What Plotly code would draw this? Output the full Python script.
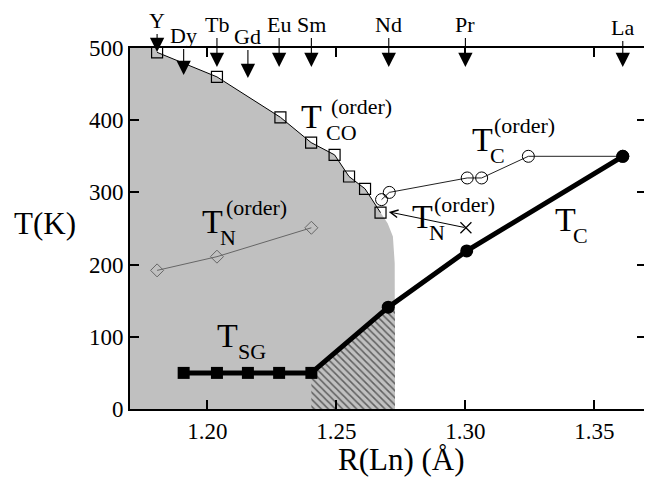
import plotly.graph_objects as go

# ---------------- data ----------------
elements = ["Y", "Dy", "Tb", "Gd", "Eu", "Sm", "Nd", "Pr", "La"]
element_R = [1.1805, 1.1908, 1.2037, 1.2157, 1.2278, 1.2403, 1.2703, 1.3000, 1.3610]

tco_R = [1.1805, 1.2037, 1.2283, 1.2402, 1.2493, 1.2549, 1.2611, 1.2671]
tco_T = [494, 460, 404, 369, 352, 322, 305, 272]

tc_order_R = [1.2675, 1.2705, 1.3007, 1.3063, 1.3244, 1.3610]
tc_order_T = [290, 300, 320, 320, 350, 350]

tn_order_left_R = [1.1805, 1.2037, 1.2403]
tn_order_left_T = [192, 211, 251]

tn_order_right_R = [1.3002]
tn_order_right_T = [251]

tc_R = [1.2701, 1.3005, 1.3610]
tc_T = [141, 219, 350]

tsg_R = [1.1908, 1.2037, 1.2157, 1.2278, 1.2403]
tsg_T = [50, 50, 50, 50, 50]

# phase-region boundaries
co_region_R = [1.17, 1.17, 1.1805] + tco_R + [1.2699, 1.2719, 1.2726, 1.2727]
co_region_T = [0, 500, 500] + tco_T + [257, 239, 202, 0]

hatch_R = [1.2403, 1.2403, 1.2701, 1.2727, 1.2727]
hatch_T = [0, 50, 141, 148, 0]

x_ticks = [1.20, 1.25, 1.30, 1.35]
y_ticks = [0, 100, 200, 300, 400, 500]

# ---------------- layout geometry ----------------
W, H = 652, 478
BODY = 8                       # default page margin of the html body
PL, PR, PT, PB = 130, 646, 48, 409   # plot area on screen (px)
ML, MT = PL - BODY, PT - BODY
MR, MB = W - (PR - BODY), H - (PB - BODY)
XR = [1.17, 1.37]
YR = [0, 500]
PW, PH = PR - PL, PB - PT


def px2x(px):
    return XR[0] + (px - PL) / PW * (XR[1] - XR[0])


def py2y(py):
    return YR[1] - (py - PT) / PH * (YR[1] - YR[0])


FONT = "Liberation Serif, Times New Roman, DejaVu Serif, serif"
GRAY = "#c0c0c0"

fig = go.Figure()

# CO region (gray)
fig.add_trace(go.Scatter(x=co_region_R, y=co_region_T, mode="lines", fill="toself",
                         fillcolor=GRAY, line=dict(width=0), hoverinfo="skip",
                         showlegend=False))
# hatched region
fig.add_trace(go.Scatter(x=hatch_R, y=hatch_T, mode="lines", fill="toself",
                         fillcolor=GRAY,
                         fillpattern=dict(shape="\\", bgcolor=GRAY, fgcolor="black",
                                          size=5, solidity=0.3),
                         line=dict(width=0), hoverinfo="skip", showlegend=False))
# T_N(order) left
fig.add_trace(go.Scatter(x=tn_order_left_R, y=tn_order_left_T, mode="lines+markers",
                         line=dict(color="#666666", width=1),
                         marker=dict(symbol="diamond-open", size=10,
                                     color="#666666", line=dict(width=1)),
                         showlegend=False))
# T_CO(order)
fig.add_trace(go.Scatter(x=tco_R, y=tco_T, mode="lines+markers",
                         line=dict(color="black", width=1),
                         marker=dict(symbol="square-open", size=11, color="black",
                                     line=dict(width=1.2)),
                         cliponaxis=False, showlegend=False))
# T_C(order)
fig.add_trace(go.Scatter(x=tc_order_R, y=tc_order_T, mode="lines+markers",
                         line=dict(color="#222222", width=1),
                         marker=dict(symbol="circle-open", size=12, color="black",
                                     line=dict(width=1)),
                         showlegend=False))
# T_N(order) right (cross)
fig.add_trace(go.Scatter(x=tn_order_right_R, y=tn_order_right_T, mode="markers",
                         marker=dict(symbol="x-thin-open", size=11, color="black",
                                     line=dict(width=1.2, color="black")),
                         showlegend=False))
# T_SG
fig.add_trace(go.Scatter(x=tsg_R, y=tsg_T, mode="lines+markers",
                         line=dict(color="black", width=5),
                         marker=dict(symbol="square", size=12, color="black"),
                         showlegend=False))
# T_C thick line (continuing from last T_SG point)
fig.add_trace(go.Scatter(x=[tsg_R[-1]] + tc_R, y=[tsg_T[-1]] + tc_T, mode="lines",
                         line=dict(color="black", width=5), showlegend=False))
fig.add_trace(go.Scatter(x=tc_R, y=tc_T, mode="markers",
                         marker=dict(symbol="circle", size=13, color="black"),
                         cliponaxis=False, showlegend=False))

ann = []
# element arrows on top
tip_py = [52, 75, 67, 78, 67, 67, 67, 67, 67]
lab_py = [20, 35, 24, 36, 24, 24, 24, 24, 27]
for el, r, tp, lp in zip(elements, element_R, tip_py, lab_py):
    ann.append(dict(x=r, y=py2y(tp), xref="x", yref="y", text=el, showarrow=True,
                    ax=0, ay=lp - tp, arrowhead=2, arrowsize=2.6, arrowwidth=1.1,
                    arrowcolor="black", standoff=0,
                    font=dict(family=FONT, size=22, color="black")))

# arrow from cross to CO end point
ann.append(dict(x=1.2703, y=273, xref="x", yref="y", ax=tn_order_right_R[0],
                ay=tn_order_right_T[0], axref="x", ayref="y", text="",
                showarrow=True, arrowhead=5, arrowsize=1.5, arrowwidth=1,
                arrowcolor="black", standoff=0))


def label(txt, px, py, size):
    ann.append(dict(x=px2x(px), y=py2y(py), xref="x", yref="y", text=txt,
                    showarrow=False, xanchor="center", yanchor="middle",
                    font=dict(family=FONT, size=size, color="black")))


BIG, SMALL = 34, 22
# T_CO(order)
label("T", 311, 116, BIG); label("(order)", 361, 106, SMALL); label("CO", 341, 132, SMALL)
# T_N(order) left
label("T", 212, 221, BIG); label("(order)", 256, 207, SMALL); label("N", 228, 237, SMALL)
# T_N(order) right
label("T", 422, 216, BIG); label("(order)", 464, 204, SMALL); label("N", 437, 232, SMALL)
# T_C(order)
label("T", 482, 139, BIG); label("(order)", 524, 125, SMALL); label("C", 497, 155, SMALL)
# T_C
label("T", 565, 219, BIG); label("C", 580, 235, SMALL)
# T_SG
label("T", 227, 335, BIG); label("SG", 252, 351, SMALL)


def title(txt, px, py, size):
    ann.append(dict(x=(px - PL) / PW, y=(PB - py) / PH, xref="paper", yref="paper",
                    text=txt, showarrow=False, xanchor="center", yanchor="middle",
                    font=dict(family=FONT, size=size, color="black")))


title("R(Ln) (Å)", 401, 459, 31)
title("T(K)", 45, 223, 31)

axis_common = dict(showline=True, linewidth=2, linecolor="black", mirror="ticks",
                   ticks="inside", ticklen=9, tickwidth=1.5, tickcolor="black",
                   showgrid=False, zeroline=False,
                   tickfont=dict(family=FONT, size=23, color="black"))

fig.update_layout(
    width=W, height=H,
    margin=dict(l=ML, r=MR, t=MT, b=MB),
    paper_bgcolor="white", plot_bgcolor="white",
    xaxis=dict(range=XR, tickvals=x_ticks, ticktext=[f"{v:.2f}" for v in x_ticks],
               **axis_common),
    yaxis=dict(range=YR, tickvals=y_ticks, ticktext=[str(v) for v in y_ticks],
               **axis_common),
    annotations=ann,
    showlegend=False,
)

fig.write_html("out.html")
